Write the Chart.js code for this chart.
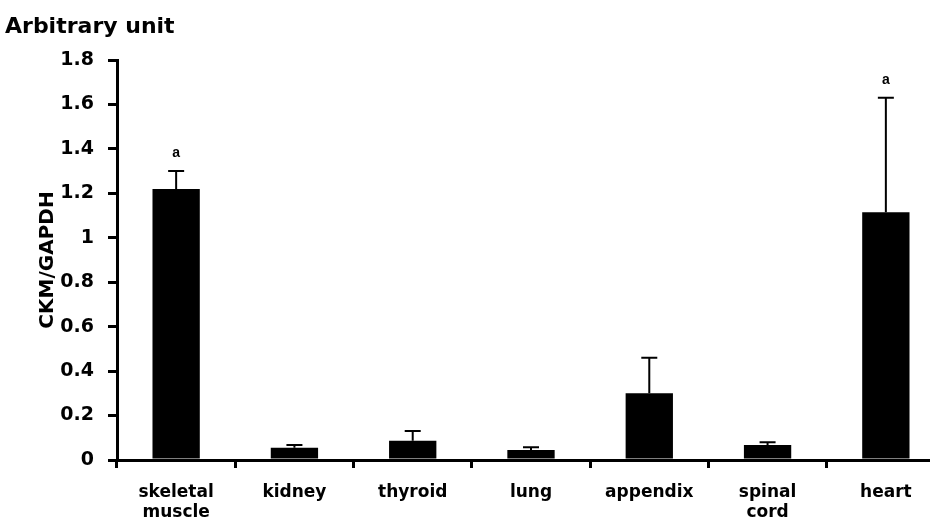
<!DOCTYPE html>
<html>
<head>
<meta charset="utf-8">
<script src="https://cdn.jsdelivr.net/npm/chart.js@4"></script>
<style>
  html, body { margin: 0; padding: 0; background: #fff; overflow: hidden; }
  #wrap { width: 945px; height: 519px; }
</style>
</head>
<body>
<div id="wrap"><canvas id="c" width="945" height="519"></canvas></div>
<script>
// tissues on the x axis
const tissues = [['skeletal', 'muscle'], 'kidney', 'thyroid', 'lung', 'appendix', ['spinal', 'cord'], 'heart'];
// CKM/GAPDH mean and upper error
const ckmRatio = [1.22, 0.055, 0.087, 0.045, 0.30, 0.068, 1.115];
const ckmError = [0.08, 0.012, 0.043, 0.012, 0.16, 0.012, 0.515];
const letters = ['a', '', '', '', '', '', 'a'];
const yTicks = [0, 0.2, 0.4, 0.6, 0.8, 1, 1.2, 1.4, 1.6, 1.8];

const font = 'DejaVu Sans, Verdana, sans-serif';

// upward error bars + significance letters
const errorBars = {
    id: 'errorBars',
    afterDatasetsDraw(chart) {
        const ctx = chart.ctx;
        const y = chart.scales.y;
        const meta = chart.getDatasetMeta(0);
        ctx.save();
        ctx.strokeStyle = '#000';
        ctx.lineWidth = 2;
        meta.data.forEach((bar, i) => {
            const top = y.getPixelForValue(ckmRatio[i] + ckmError[i]);
            ctx.beginPath();
            ctx.moveTo(bar.x, bar.y);
            ctx.lineTo(bar.x, top);
            ctx.moveTo(bar.x - 8, top);
            ctx.lineTo(bar.x + 8, top);
            ctx.stroke();
            if (letters[i]) {
                ctx.fillStyle = '#000';
                ctx.font = 'bold 14px Liberation Sans, Arial, sans-serif';
                ctx.textAlign = 'center';
                ctx.textBaseline = 'bottom';
                ctx.fillText(letters[i], bar.x, top - 11);
            }
        });
        ctx.font = 'bold 22px ' + font;
        ctx.fillStyle = '#000';
        ctx.textAlign = 'left';
        ctx.textBaseline = 'middle';
        ctx.fillText('Arbitrary unit', 5, 27);
        ctx.restore();
    }
};

new Chart(document.getElementById('c'), {
    type: 'bar',
    data: {
        labels: tissues,
        datasets: [{
            data: ckmRatio,
            backgroundColor: '#000',
            borderWidth: 0,
            barPercentage: 0.4,
            categoryPercentage: 1
        }]
    },
    options: {
        responsive: false,
        animation: false,
        devicePixelRatio: 1,
        layout: { padding: { top: 60, right: 0, left: 0, bottom: 0 } },
        plugins: { legend: { display: false }, tooltip: { enabled: false } },
        scales: {
            x: {
                offset: true,
                grid: { display: true, drawOnChartArea: false, offset: true, tickLength: 8, color: '#000', lineWidth: 3 },
                border: { color: '#000', width: 3 },
                ticks: { color: '#000', font: { family: font, size: 17, weight: 'bold', lineHeight: 1.2 }, padding: 14, maxRotation: 0, autoSkip: false },
                afterFit(scale) { scale.height = 59; }
            },
            y: {
                min: 0,
                max: 1.8,
                afterBuildTicks(scale) { scale.ticks = yTicks.map(v => ({ value: v })); },
                grid: { display: true, drawOnChartArea: false, tickLength: 9, color: '#000', lineWidth: 3 },
                border: { color: '#000', width: 3 },
                ticks: {
                    color: '#000',
                    padding: 14,
                    font: { family: font, size: 19, weight: 'bold' },
                    callback: v => String(Math.round(v * 10) / 10)
                },
                title: { display: true, text: 'CKM/GAPDH', color: '#000', font: { family: font, size: 20, weight: 'bold' }, padding: { top: 36, bottom: 0 } },
                afterFit(scale) { scale.width = 117; }
            }
        }
    },
    plugins: [errorBars]
});
</script>
</body>
</html>
